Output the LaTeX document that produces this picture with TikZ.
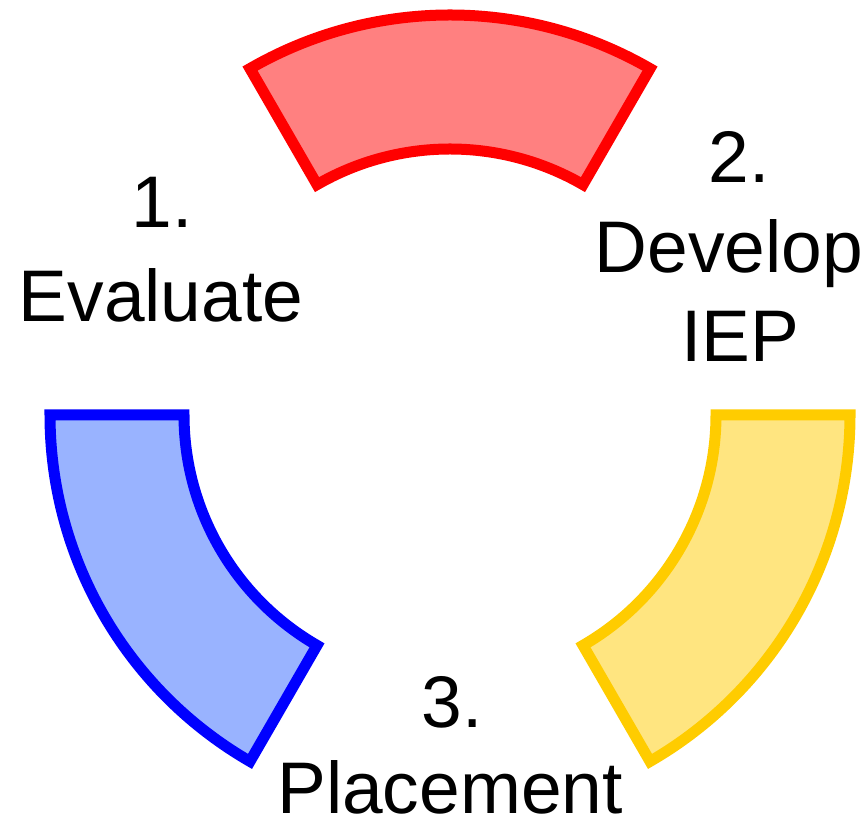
\documentclass[tikz,border=0pt]{standalone}
\usepackage{fontspec}
\setmainfont{Liberation Sans}
\usetikzlibrary{positioning}

\definecolor{redline}{RGB}{255,0,0}
\definecolor{redfill}{RGB}{255,128,128}
\definecolor{blueline}{RGB}{0,0,255}
\definecolor{bluefill}{RGB}{153,179,255}
\definecolor{yellowline}{RGB}{255,204,0}
\definecolor{yellowfill}{RGB}{255,229,128}

\tikzset{
  sector/.style={line width=0.275cm, miter limit=10},
  redsec/.style={sector, draw=redline, fill=redfill},
  bluesec/.style={sector, draw=blueline, fill=bluefill},
  yellowsec/.style={sector, draw=yellowline, fill=yellowfill},
  label/.style={anchor=base, inner sep=0pt, font=\fontsize{52}{62}\selectfont}
}

\begin{document}
\begin{tikzpicture}[x=0.025cm,y=0.025cm]
      \useasboundingbox (0,0) rectangle (868,826);
      \begin{scope}[shift={(450,411)}]
	  \draw[redsec] (60:400) arc[start angle=60, end angle=120, radius=400]
	    -- (120:266) arc[start angle=120, end angle=60, radius=266] -- cycle;
	  \draw[bluesec] (180:400) arc[start angle=180, end angle=240, radius=400]
	    -- (240:266) arc[start angle=240, end angle=180, radius=266] -- cycle;
	  \draw[yellowsec] (300:400) arc[start angle=300, end angle=360, radius=400]
	    -- (360:266) arc[start angle=360, end angle=300, radius=266] -- cycle;
      \end{scope}

      \node[label] (n1) at (162,598) {1.};
      \node[label] (evaluate) at (161,504) {Evaluate};
      \node[label] (n2) at (739,643) {2.};
      \node[label] (develop) at (729,553) {Develop};
      \node[label] (iep) at (740,464) {IEP};
      \node[label] (n3) at (452,98) {3.};
      \node[label] (placement) at (450,12) {Placement};
\end{tikzpicture}
\end{document}
